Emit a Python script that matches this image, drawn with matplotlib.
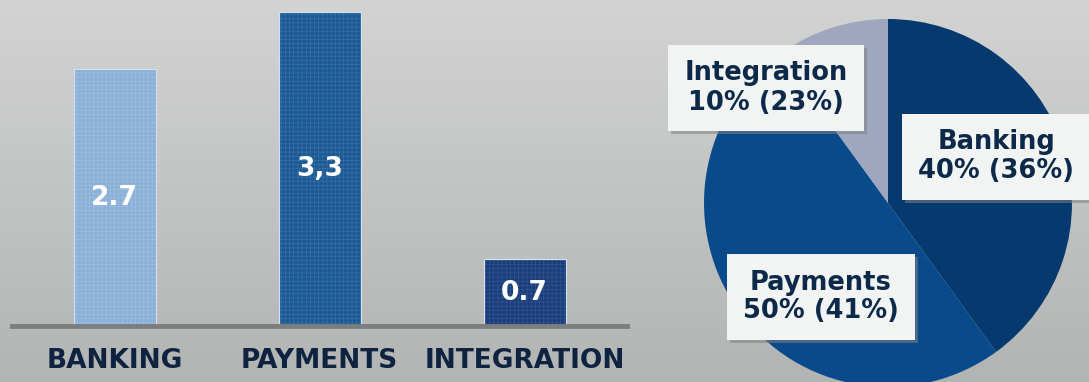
import numpy as np
import matplotlib
matplotlib.use("Agg")
import matplotlib.pyplot as plt
from matplotlib.patches import Rectangle

# data
categories = ["BANKING", "PAYMENTS", "INTEGRATION"]
revenue = [2.7, 3.3, 0.7]
revenue_labels = ["2.7", "3,3", "0.7"]
bar_colors = ["#8bb0d8", "#1d5893", "#1c3e78"]
hatch_colors = ["#9fbde0", "#3370a8", "#2f5393"]

pie_names = ["Banking", "Payments", "Integration"]
pie_share = [40, 50, 10]
pie_prev = [36, 41, 23]
pie_colors = ["#063a6f", "#084a8a", "#9ea7bd"]

W, H = 1089, 382
fig = plt.figure(figsize=(W / 100, H / 100), dpi=100)
plt.rcParams["hatch.linewidth"] = 0.5

# gray gradient background
bg = fig.add_axes([0, 0, 1, 1], zorder=-10)
grad = np.linspace(0, 1, 256).reshape(-1, 1)
top = np.array([0.825, 0.827, 0.827])
bot = np.array([0.700, 0.708, 0.708])
img = top + (bot - top) * grad[..., None]
bg.imshow(img, aspect="auto", extent=[0, 1, 0, 1])
bg.axis("off")

def fx(px):
    return px / W

def fy(py):
    return 1 - py / H

# ---- bar chart ----
ax = fig.add_axes([fx(12), fy(326), fx(627) - fx(12), 326 / H])
ax.patch.set_alpha(0)
x = np.arange(len(categories))
for i in range(len(categories)):
    ax.bar(x[i], revenue[i], width=0.4, color=bar_colors[i],
           edgecolor=hatch_colors[i], hatch="++++", linewidth=0)
    ax.bar(x[i], revenue[i], width=0.4, fill=False,
           edgecolor="#d3e0ee", linewidth=0.8)
    ax.text(x[i], revenue[i] / 2, revenue_labels[i], ha="center", va="center",
            color="white", fontsize=19, fontweight="bold")
ax.set_xlim(-0.5, 2.5)
ax.set_ylim(0, 3.43)
ax.axhline(0, color="#7b7e7c", linewidth=3.5, clip_on=False)
for s in ax.spines.values():
    s.set_visible(False)
ax.set_yticks([])
ax.set_xticks(x)
ax.set_xticklabels(categories, fontsize=19, fontweight="bold", color="#0e2340")
ax.tick_params(axis="x", length=0, pad=16)

# ---- pie ----
pax = fig.add_axes([fx(704), fy(387), 368 / W, 368 / H])
pax.pie(pie_share, colors=pie_colors, startangle=90, counterclock=False,
        wedgeprops=dict(linewidth=0))
pax.set_xlim(-1, 1)
pax.set_ylim(-1, 1)
pax.set_aspect("auto")

label_pos = {"Banking": (996, 157), "Payments": (821, 297), "Integration": (766, 88)}
labels = []
for name, share, prev in zip(pie_names, pie_share, pie_prev):
    px, py = label_pos[name]
    t = fig.text(fx(px), fy(py), f"{name}\n{share}% ({prev}%)", color="#0c2949",
                 ha="center", va="center", fontsize=18.5, fontweight="bold",
                 linespacing=1.15, multialignment="center", zorder=3,
                 bbox=dict(boxstyle="square,pad=0.62", fc="#f2f3f3", ec="none"))
    labels.append(t)

# soft shadow behind the label boxes
fig.canvas.draw()
r = fig.canvas.get_renderer()
for t in labels:
    bb = t.get_bbox_patch().get_window_extent(r)
    fig.add_artist(Rectangle((fx(bb.x0 + 3), (bb.y0 - 3) / H), bb.width / W, bb.height / H,
                             transform=fig.transFigure, fc="#7f8282", ec="none",
                             alpha=0.55, zorder=2))

fig.savefig("out.png", dpi=100)
